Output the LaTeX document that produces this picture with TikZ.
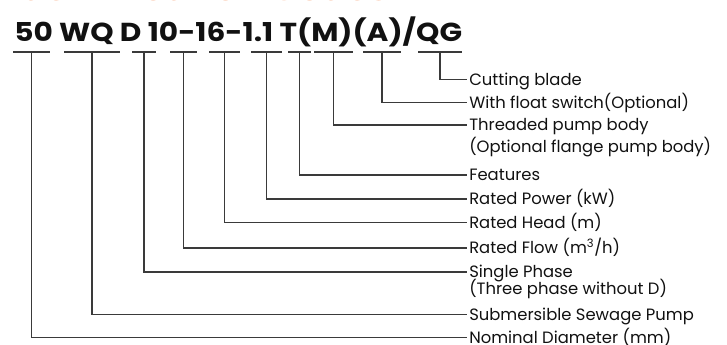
\documentclass[tikz,border=0pt]{standalone}
\usepackage{fontspec}
\setmainfont{Poppins}
\newfontfamily\codefont[FakeStretch=1.14]{Poppins}
\definecolor{codeInk}{HTML}{111111}
\definecolor{codeLine}{HTML}{3A3A3A}
\definecolor{codeOrange}{HTML}{F27A3C}
\usepackage{tikz}
\usetikzlibrary{
	arrows.meta,
	positioning,
	calc
}

\begin{document}
\begin{tikzpicture}[x=0.75pt, y=-0.75pt,
		code/.style={anchor=base west, inner sep=0pt, font=\codefont\bfseries\fontsize{19.5}{22}\selectfont, text=codeInk},
		lab/.style={anchor=west, inner xsep=1.5pt, inner ysep=0pt, text height=8.6pt, text depth=0pt, font=\fontsize{12.3}{13}\selectfont, text=codeInk},
		labb/.style={anchor=base west, inner xsep=1.5pt, inner ysep=0pt, font=\fontsize{12.3}{13}\selectfont, text=codeInk},
		uline/.style={line width=0.9pt, draw=codeLine},
		conn/.style={line width=0.9pt, draw=codeLine}
	]
		\useasboundingbox (0,0) rectangle (727,345);
		\begin{scope}
			\clip (0,0) rectangle (727,345);
			\node[code, text=codeOrange, font=\codefont\bfseries\fontsize{24}{28}\selectfont] (title) at (10,0.2) {Identification Codes};
		\end{scope}
		\node[code] (model) at (14,42) {50 WQ D 10-16-1.1 T(M)(A)/QG};
		\foreach \n/\a/\b in {1/13/50, 2/64/120, 3/132/156, 4/170/197, 5/209/240, 6/251/282, 7/288/311, 8/314/353, 9/363/401, 10/418/462} {
			\draw[uline] (\a,52) -- (\b,52);
			\coordinate (s\n) at ({(\a+\b)/2},52);
		}
		\node[lab] (cut) at (467,79.3) {Cutting blade};
		\node[lab] (flt) at (467,102.7) {With float switch(Optional)};
		\node[lab] (thr) at (467,125) {Threaded pump body};
		\node[labb] (thrb) at ([yshift=-16pt]thr.base west) {(Optional flange pump body)};
		\node[lab] (fea) at (467,175) {Features};
		\node[lab] (pow) at (467,199) {Rated Power (kW)};
		\node[lab] (hd) at (467,222.7) {Rated Head (m)};
		\node[lab] (flw) at (467,248) {Rated Flow (m\textsuperscript{3}/h)};
		\node[lab] (sph) at (467,272) {Single Phase};
		\node[labb] (sphb) at ([yshift=-12.5pt]sph.base west) {(Three phase without D)};
		\node[lab] (ssp) at (467,314.3) {Submersible Sewage Pump};
		\node[lab] (nd) at (467,337.3) {Nominal Diameter (mm)};
		\draw[conn] (s10) |- (cut.west);
		\draw[conn] (s9) |- (flt.west);
		\draw[conn] (s8) |- (thr.west);
		\draw[conn] (s7) |- (fea.west);
		\draw[conn] (s6) |- (pow.west);
		\draw[conn] (s5) |- (hd.west);
		\draw[conn] (s4) |- (flw.west);
		\draw[conn] (s3) |- (sph.west);
		\draw[conn] (s2) |- (ssp.west);
		\draw[conn] (s1) |- (nd.west);
	\end{tikzpicture}
\end{document}
